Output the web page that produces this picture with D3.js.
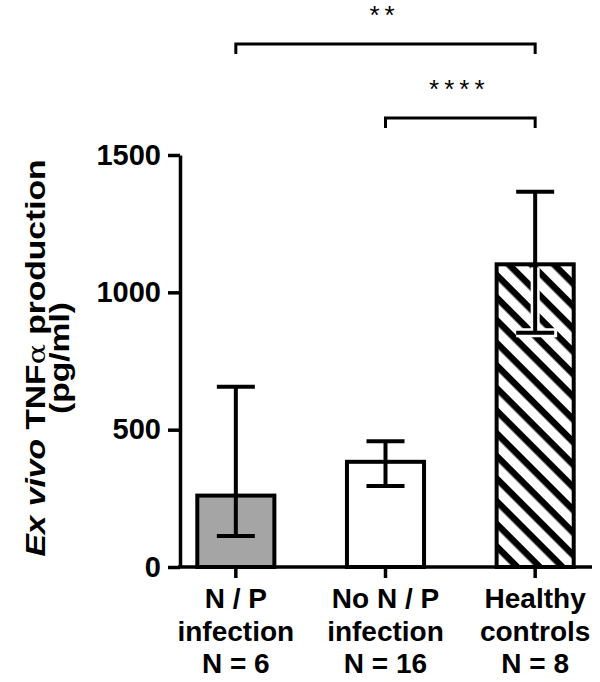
<!DOCTYPE html>
<html><head><meta charset="utf-8">
<script src="https://cdn.jsdelivr.net/npm/d3@7"></script>
<style>
html,body{margin:0;padding:0;background:#fff;}
text{font-family:"Liberation Sans",Arial,Helvetica,sans-serif;}
</style></head>
<body><svg id="c" width="600" height="682"></svg>
<script>
const categories = [["N / P","infection","N = 6"],["No N / P","infection","N = 16"],["Healthy","controls","N = 8"]];
const values = [260, 383, 1102];
const errLow = [113, 295, 853];
const errHigh = [656, 458, 1366];
const yTicks = [0, 500, 1000, 1500];
const fills = ["#a5a5a5", "#ffffff", "url(#hatch)"];
const comparisons = [{from:0, to:2, label:"**", level:0}, {from:1, to:2, label:"****", level:1}];

const svg = d3.select("#c");
const defs = svg.append("defs");
const P = 16;
const pat = defs.append("pattern").attr("id","hatch").attr("patternUnits","userSpaceOnUse")
  .attr("width",P).attr("height",P).attr("patternTransform","rotate(45)");
pat.append("rect").attr("width",P).attr("height",P).attr("fill","#fff");
pat.append("rect").attr("x",0).attr("y",0).attr("width",P).attr("height",6.5).attr("fill","#000");

const y = d3.scaleLinear().domain([0,1500]).range([567,155]);
const x = d3.scaleBand().domain(d3.range(categories.length)).range([161,610]).paddingInner(0.485).paddingOuter(0.2425);

// y axis
const ya = svg.append("g").attr("transform","translate(180,0)")
  .call(d3.axisLeft(y).tickValues(yTicks).tickFormat(d3.format("d")).tickSize(12).tickSizeOuter(0).tickPadding(7));
ya.select(".domain").attr("stroke","#000").attr("stroke-width",3.5);
ya.selectAll(".tick line").attr("stroke","#000").attr("stroke-width",3.5);
ya.selectAll(".tick text").attr("font-size",29).attr("font-weight","bold").attr("fill","#000");

// x axis
const xa = svg.append("g").attr("transform","translate(0,567)")
  .call(d3.axisBottom(x).tickSize(11).tickSizeOuter(0).tickFormat(""));
xa.select(".domain").remove();
xa.selectAll(".tick line").attr("stroke","#000").attr("stroke-width",3.5);

// bars
const bars = svg.append("g");
bars.selectAll("rect").data(values).join("rect")
  .attr("x",(d,i)=>x(i)).attr("width",x.bandwidth())
  .attr("y",d=>y(d)).attr("height",d=>y(0)-y(d))
  .attr("fill",(d,i)=>fills[i]).attr("stroke","#000").attr("stroke-width",4);
svg.append("line").attr("x1",178).attr("x2",592).attr("y1",567).attr("y2",567)
  .attr("stroke","#000").attr("stroke-width",3.5);

// error bars
const cap = 19;
const eb = svg.append("g");
values.forEach((v,i)=>{
  const cx = x(i)+x.bandwidth()/2;
  if (i===2){
    const top = y(v)+3;
    eb.append("line").attr("x1",cx).attr("x2",cx).attr("y1",top).attr("y2",y(errLow[i])).attr("stroke","#fff").attr("stroke-width",9);
    eb.append("line").attr("x1",cx-cap).attr("x2",cx+cap+3).attr("y1",y(errLow[i])).attr("y2",y(errLow[i])).attr("stroke","#fff").attr("stroke-width",9);
  }
  eb.append("line").attr("x1",cx).attr("x2",cx).attr("y1",y(errHigh[i])).attr("y2",y(errLow[i])).attr("stroke","#000").attr("stroke-width",4);
  [errHigh[i], errLow[i]].forEach(e=>{
    eb.append("line").attr("x1",cx-cap).attr("x2",cx+cap).attr("y1",y(e)).attr("y2",y(e)).attr("stroke","#000").attr("stroke-width",4);
  });
});

// category labels
const lab = svg.append("g");
categories.forEach((lines,i)=>{
  const cx = x(i)+x.bandwidth()/2;
  const t = lab.append("text").attr("text-anchor","middle").attr("font-size",28).attr("font-weight","bold").attr("fill","#000");
  lines.forEach((l,k)=>t.append("tspan").attr("x",cx).attr("y",608+k*32.5).text(l));
});

// y title
const yt = svg.append("g").attr("transform","translate(0,358) rotate(-90) scale(1.2,1)");
const t1 = yt.append("text").attr("text-anchor","middle").attr("y",45).attr("font-size",28).attr("font-weight","bold").attr("fill","#000");
t1.append("tspan").attr("font-style","italic").text("Ex vivo");
t1.append("tspan").text(" TNF");
t1.append("tspan").attr("font-weight","normal").attr("font-family","'DejaVu Serif',serif").attr("font-size",25).text("α");
t1.append("tspan").text(" production");
yt.append("text").attr("text-anchor","middle").attr("y",69).attr("font-size",28).attr("font-weight","bold").attr("fill","#000").text("(pg/ml)");

// significance brackets
const levelY = [44, 118];
const sig = svg.append("g");
comparisons.forEach(c=>{
  const x1 = x(c.from)+x.bandwidth()/2, x2 = x(c.to)+x.bandwidth()/2, yy = levelY[c.level];
  sig.append("path").attr("d",`M${x1},${yy+10}V${yy}H${x2}V${yy+10}`).attr("fill","none").attr("stroke","#000").attr("stroke-width",3);
  sig.append("text").attr("x",(x1+x2)/2 - 1).attr("y",yy-20).attr("text-anchor","middle")
    .attr("font-size",26).attr("letter-spacing",5).attr("fill","#000").text(c.label);
});
</script></body></html>
